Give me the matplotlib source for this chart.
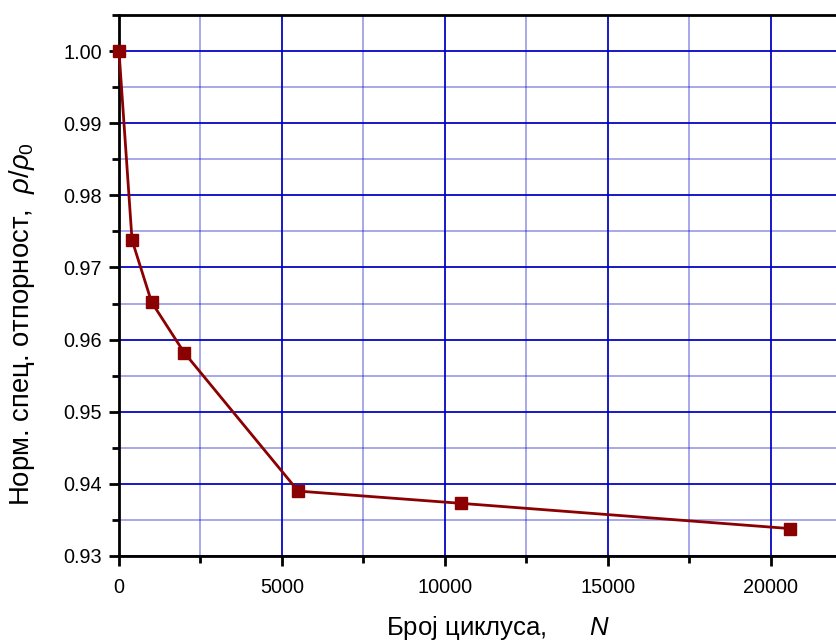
import matplotlib
matplotlib.use("Agg")
import matplotlib.pyplot as plt
from matplotlib.ticker import MultipleLocator

plt.rcParams["font.family"] = ["Liberation Sans", "DejaVu Sans"]
plt.rcParams["mathtext.fontset"] = "custom"
plt.rcParams["mathtext.rm"] = "Liberation Sans"
plt.rcParams["mathtext.it"] = "Liberation Sans:italic"

# cycle count vs normalised resistivity
cycles = [0, 400, 1000, 2000, 5500, 10500, 20600]
rho_norm = [1.000, 0.9738, 0.9652, 0.9582, 0.9390, 0.9373, 0.9338]

x_ticks = [0, 5000, 10000, 15000, 20000]
y_ticks = [0.93, 0.94, 0.95, 0.96, 0.97, 0.98, 0.99, 1.00]

grid_blue = "#0000c0"
line_red = "#8b0000"

fig = plt.figure(figsize=(8.37, 6.42), dpi=100)
ax = fig.add_axes([119 / 837, 1 - 556 / 642, 1 - 119 / 837, (556 - 15) / 642])

ax.plot(cycles, rho_norm, color=line_red, lw=2, marker="s", ms=8,
        markerfacecolor=line_red, markeredgecolor=line_red, zorder=5,
        clip_on=False)

ax.set_xlim(0, 22040)
ax.set_ylim(0.93, 1.005)
ax.set_xticks(x_ticks)
ax.set_yticks(y_ticks)
ax.set_yticklabels([f"{v:.2f}" for v in y_ticks])
ax.xaxis.set_minor_locator(MultipleLocator(2500))
ax.yaxis.set_minor_locator(MultipleLocator(0.005))

ax.grid(which="major", color=grid_blue, lw=1.4, alpha=0.9)
ax.grid(which="minor", color=grid_blue, lw=1.2, alpha=0.4)
ax.set_axisbelow(True)

for side in ("left", "bottom", "top"):
    ax.spines[side].set_linewidth(2)
    ax.spines[side].set_color("black")
ax.spines["right"].set_visible(False)

ax.tick_params(which="major", direction="out", length=7, width=2,
               labelsize=14.3, colors="black")
ax.tick_params(axis="x", which="major", pad=9)
ax.tick_params(axis="y", which="major", pad=5.5)
ax.tick_params(which="minor", direction="out", length=5, width=2)

ax.set_xlabel("Број циклуса,      $N$", fontsize=18.5)
ax.xaxis.label.set_va("baseline")
ax.xaxis.set_label_coords((498 - 119) / 718, -(635 - 556) / 541)
ax.set_ylabel("Норм. спец. отпорност,  $\\rho/\\rho_0$", fontsize=19.8)
ax.yaxis.set_label_coords((37 - 119) / 718, (556 - 324) / 541)

fig.savefig("out.png", dpi=100)
